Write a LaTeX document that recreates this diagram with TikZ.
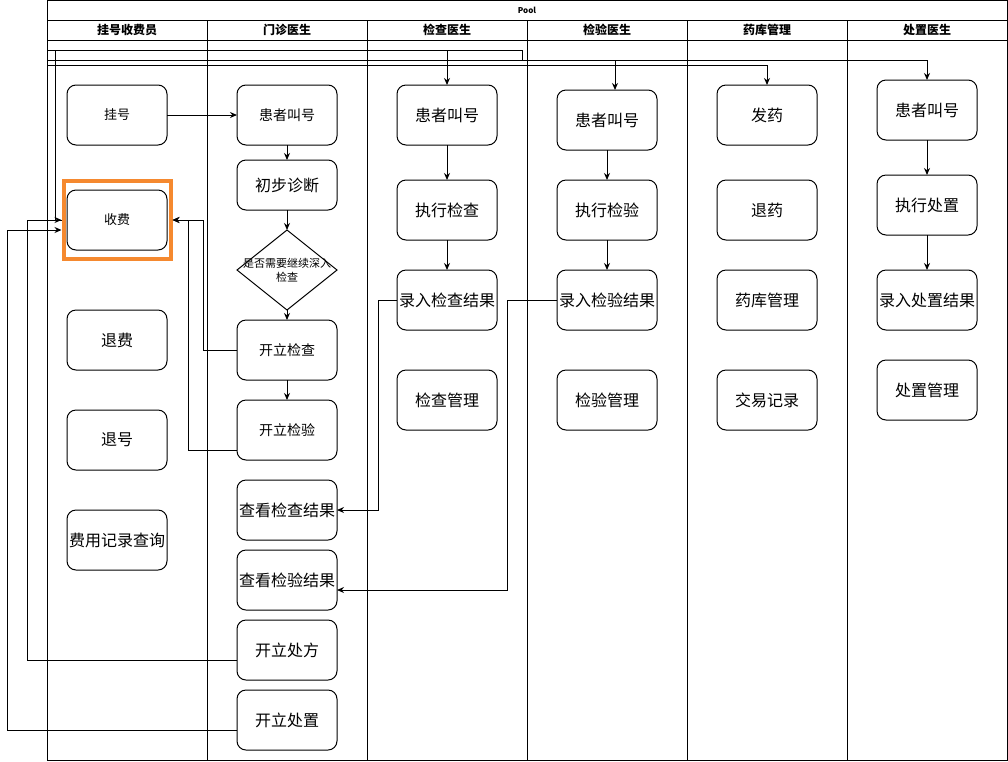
\documentclass[tikz,border=0pt]{standalone}
\usepackage{fontspec}
\setmainfont{Noto Sans CJK SC}
\usetikzlibrary{positioning,arrows.meta,shapes.geometric}
\definecolor{hlorange}{HTML}{F5892F}

\begin{document}
\begin{tikzpicture}[x=1pt,y=-1pt,line width=1pt,
  box/.style={draw,rounded corners=9pt,minimum width=100pt,minimum height=60pt,inner sep=1pt,outer sep=0pt,align=center,font=\fontsize{16}{19}\selectfont},
  mid/.style={font=\fontsize{14}{17}\selectfont},
  low/.style={font=\fontsize{13}{16}\selectfont},
  dec/.style={diamond,draw,minimum width=100pt,minimum height=80pt,inner sep=0pt,outer sep=0pt},
  lane/.style={font=\fontsize{12}{14}\selectfont\bfseries},
  arr/.style={-{Stealth[length=7pt,width=6pt]}}]
\useasboundingbox (0,0) rectangle (1008,761);
% pool and lanes
\draw (47,0) rectangle (1007,760);
\draw (47,20) -- (1007,20) (47,40) -- (1007,40);
\foreach \x in {207,367,527,687,847} \draw (\x,20) -- (\x,760);
\node[font=\fontsize{8}{9}\selectfont\bfseries] (pool) at (527,10) {Pool};
\node[lane] (l1) at (127,30) {挂号收费员};
\node[lane] (l2) at (287,30) {门诊医生};
\node[lane] (l3) at (447,30) {检查医生};
\node[lane] (l4) at (607,30) {检验医生};
\node[lane] (l5) at (767,30) {药库管理};
\node[lane] (l6) at (927,30) {处置医生};
% 挂号收费员
\node[box,low] (gh) at (117,115) {挂号};
\node[box,low,below=45pt of gh] (sf) {收费};
\node[box,below=60pt of sf] (tf) {退费};
\node[box,below=40pt of tf] (th) {退号};
\node[box,below=40pt of th] (fyjl) {费用记录查询};
\node[draw=hlorange,line width=4pt,minimum width=107pt,minimum height=78pt,inner sep=0pt] (hl) at (sf) {};
% 门诊医生
\node[box,mid] (mz1) at (287,115) {患者叫号};
\node[box,minimum height=50pt,below=15pt of mz1] (mz2) {初步诊断};
\node[dec,below=20pt of mz2] (dec) {};
\node[font=\fontsize{11}{14}\selectfont,align=center] (dectxt) at (dec) {是否需要继续深入\\检查};
\node[box,mid,below=10pt of dec] (kj) {开立检查};
\node[box,mid,below=20pt of kj] (ky) {开立检验};
\node[box,below=20pt of ky] (ckj) {查看检查结果};
\node[box,below=10pt of ckj] (cky) {查看检验结果};
\node[box,below=10pt of cky] (kcf) {开立处方};
\node[box,below=10pt of kcf] (kcz) {开立处置};
% 检查医生
\node[box] (jc1) at (447,115) {患者叫号};
\node[box,below=35pt of jc1] (jc2) {执行检查};
\node[box,below=30pt of jc2] (jc3) {录入检查结果};
\node[box,below=40pt of jc3] (jc4) {检查管理};
% 检验医生
\node[box] (jy1) at (607,120) {患者叫号};
\node[box,below=30pt of jy1] (jy2) {执行检验};
\node[box,below=30pt of jy2] (jy3) {录入检验结果};
\node[box,below=40pt of jy3] (jy4) {检验管理};
% 药库管理
\node[box] (fy) at (767,115) {发药};
\node[box,below=35pt of fy] (ty) {退药};
\node[box,below=30pt of ty] (ykgl) {药库管理};
\node[box,below=40pt of ykgl] (jyjl) {交易记录};
% 处置医生
\node[box] (cz1) at (927,110) {患者叫号};
\node[box,below=35pt of cz1] (cz2) {执行处置};
\node[box,below=35pt of cz2] (cz3) {录入处置结果};
\node[box,below=30pt of cz3] (cz4) {处置管理};
% top routing points
\coordinate (t1) at (55,50);
\coordinate (t2) at (522,60);
\coordinate (p50) at (47,50);
\coordinate (p60) at (47,60);
\coordinate (p65) at (47,65);
% connectors
\draw[arr] (gh) -- (mz1);
\draw[arr] (mz1) -- (mz2); \draw[arr] (mz2) -- (dec); \draw[arr] (dec) -- (kj); \draw[arr] (kj) -- (ky);
\draw[arr] (jc1) -- (jc2); \draw[arr] (jc2) -- (jc3);
\draw[arr] (jy1) -- (jy2); \draw[arr] (jy2) -- (jy3);
\draw[arr] (cz1) -- (cz2); \draw[arr] (cz2) -- (cz3);
\draw[arr] (kj.west) -- ++(-34,0) |- (hl.east);
\draw[arr] ([yshift=-20pt]ky.west) -- ++(-49,0) |- (hl.east);
\draw[arr] ([yshift=-10pt]kcf.west) -- ++(-210,0) |- (hl.west);
\draw[arr] ([yshift=-10pt]kcz.west) -- ++(-230,0) |- ([yshift=-10pt]hl.west);
\draw[arr] (jc3.west) -- ++(-19,0) |- (ckj.east);
\draw[arr] (jy3.west) -- ++(-50,0) |- ([yshift=-10pt]cky.east);
\draw[arr] (hl.west) -| (t1) -| (jc1.north);
\draw[arr] (t1) -| (t2) -| ([xshift=8pt]jy1.north);
\draw[arr] (t2) -| (cz1.north);
\draw (p50) -- (t1) (p60) -- (t2);
\draw[arr] (p65) -| (fy.north);
\end{tikzpicture}
\end{document}
